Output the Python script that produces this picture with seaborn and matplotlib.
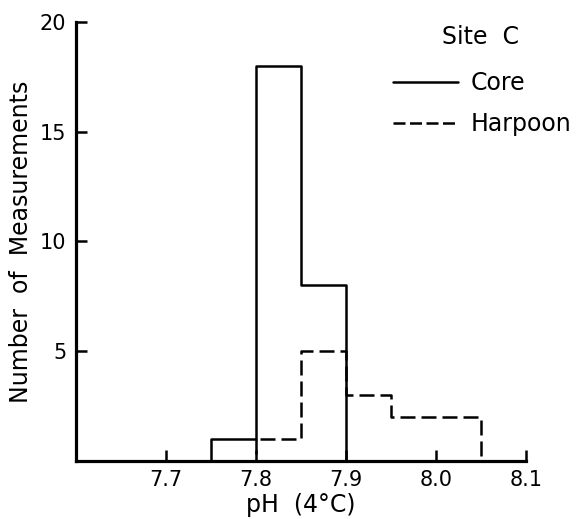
import numpy as np
import matplotlib
matplotlib.use("Agg")
import matplotlib.pyplot as plt
import seaborn as sns
from matplotlib.lines import Line2D

# pH bins (0.05 wide) and number of measurements per bin, by sampling method
core_edges = [7.75, 7.80, 7.85, 7.90]
core_counts = [1, 18, 8]
harpoon_edges = [7.80, 7.85, 7.90, 7.95, 8.00, 8.05]
harpoon_counts = [1, 5, 3, 2, 2]

x_ticks = [7.7, 7.8, 7.9, 8.0, 8.1]
x_tick_labels = ["7.7", "7.8", "7.9", "8.0", "8.1"]
y_ticks = [5, 10, 15, 20]
series_names = ["Core", "Harpoon"]
site_title = "Site  C"

sns.set_theme(style="ticks")
plt.rcParams["font.family"] = ["DejaVu Sans"]
plt.rcParams["text.color"] = "black"
plt.rcParams["axes.labelcolor"] = "black"

LW = 1.8
PLOT_DASH = (6.0, 2.4)
LEGEND_DASH = (4.8, 1.8)

fig = plt.figure(figsize=(5.77, 5.19), dpi=100)
ax = fig.add_axes([76 / 577, 1 - 460.7 / 519, 450 / 577, 438.4 / 519])


def centers(edges):
    e = np.asarray(edges)
    return (e[:-1] + e[1:]) / 2


# Harpoon outline (dashed)
sns.histplot(x=centers(harpoon_edges), weights=harpoon_counts, bins=harpoon_edges,
             element="step", fill=True, color="black", facecolor="none",
             edgecolor="black", linewidth=LW, linestyle=(0, PLOT_DASH),
             zorder=1, ax=ax)
# Core outline (solid)
sns.histplot(x=centers(core_edges), weights=core_counts, bins=core_edges,
             element="step", fill=True, color="black", facecolor="none",
             edgecolor="black", linewidth=LW, linestyle="-", zorder=1, ax=ax)

ax.set_xlim(7.6, 8.1)
ax.set_ylim(0, 20)
ax.set_xticks(x_ticks)
ax.set_xticklabels(x_tick_labels)
ax.set_yticks(y_ticks)
ax.tick_params(direction="in", length=8, width=LW, labelsize=15, pad=7,
               colors="black")
for side in ["top", "right"]:
    ax.spines[side].set_visible(False)
for side in ["left", "bottom"]:
    ax.spines[side].set_linewidth(LW + 0.5)
    ax.spines[side].set_color("black")
    ax.spines[side].set_zorder(5)

ax.set_xlabel("pH  (4°C)", fontsize=17, labelpad=2)
ax.set_ylabel("Number  of  Measurements", fontsize=17, labelpad=5)

# Legend: site name above the two line keys
fig.text(481 / 577, 1 - 37 / 519, site_title, ha="center", va="center",
         fontsize=17)
handles = [
    Line2D([], [], color="black", lw=LW, linestyle="-"),
    Line2D([], [], color="black", lw=LW, linestyle=(0, LEGEND_DASH)),
]
fig.legend(handles, series_names, frameon=False,
           fontsize=17, handlelength=2.75, handletextpad=0.55,
           labelspacing=0.72, borderpad=0, borderaxespad=0,
           loc="upper left", bbox_to_anchor=(393 / 577, 1 - 71 / 519))

fig.savefig("out.png", dpi=100)
